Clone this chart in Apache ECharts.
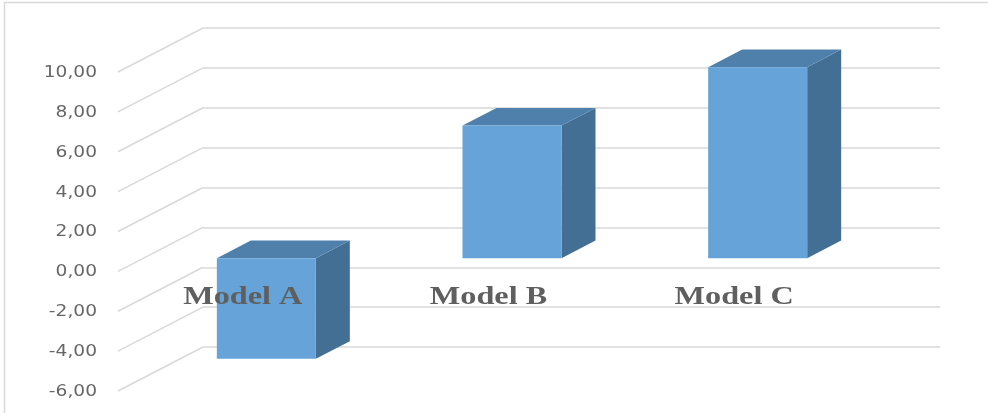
<!DOCTYPE html>
<html>
<head>
<meta charset="utf-8">
<script src="https://cdn.jsdelivr.net/npm/echarts@6/dist/echarts.min.js"></script>
<style>
  html, body { margin: 0; padding: 0; background: #ffffff; }
  #chart { width: 988px; height: 413px; }
</style>
</head>
<body>
<div id="chart"></div>
<script>
// Chart data
const categories = ['Model A', 'Model B', 'Model C'];
const values = [-5.05, 6.65, 9.58];
const tickValues = [-6, -4, -2, 0, 2, 4, 6, 8, 10];
const tickLabels = ['-6,00', '-4,00', '-2,00', '0,00', '2,00', '4,00', '6,00', '8,00', '10,00'];

// Oblique projection: offset from the back wall to the front edge of the floor
const DEPTH_DX = -85;
const DEPTH_DY = 44;
const BAR_FRONT = 0.7;   // share of the depth where the bar's front face sits
const BAR_BACK = 0.3;    // share of the depth where the bar's back face sits
const BAR_SHARE = 0.403; // bar width as share of a category band
const TEXT_STRETCH = 1.24;

const chart = echarts.init(document.getElementById('chart'), null, { renderer: 'canvas' });

function wallRender(params, api) {
  const v = api.value(1);
  const y = api.coord([0, v])[1];
  const x = params.coordSys.x;
  const fx = x + DEPTH_DX;
  const fy = y + DEPTH_DY;
  return {
    type: 'group',
    children: [
      {
        type: 'line',
        shape: { x1: x, y1: y, x2: fx, y2: fy },
        style: { stroke: '#d9d9d9', lineWidth: 1.5 }
      },
      {
        type: 'text',
        x: fx - 21,
        y: fy + 1,
        scaleX: TEXT_STRETCH,
        style: {
          text: tickLabels[params.dataIndex],
          font: '15px "DejaVu Sans", sans-serif',
          fill: '#666666',
          align: 'right', verticalAlign: 'middle',
          textAlign: 'right', textVerticalAlign: 'middle'
        }
      }
    ]
  };
}

function barRender(params, api) {
  const i = api.value(0);
  const v = api.value(1);
  const band = api.size([1, 0])[0];
  const w = band * BAR_SHARE;
  const cx = api.coord([i, 0])[0];
  const yTop = api.coord([i, Math.max(v, 0)])[1];
  const yBot = api.coord([i, Math.min(v, 0)])[1];
  const fdx = DEPTH_DX * BAR_FRONT, fdy = DEPTH_DY * BAR_FRONT;
  const bdx = DEPTH_DX * BAR_BACK, bdy = DEPTH_DY * BAR_BACK;
  const xl = cx - w / 2, xr = cx + w / 2;
  const front = { x: xl + fdx, y: yTop + fdy, width: w, height: yBot - yTop };
  return {
    type: 'group',
    children: [
      {
        type: 'polygon',
        shape: { points: [
          [xr + fdx, yTop + fdy], [xr + bdx, yTop + bdy],
          [xr + bdx, yBot + bdy], [xr + fdx, yBot + fdy]
        ] },
        style: { fill: '#436f94' }
      },
      {
        type: 'polygon',
        shape: { points: [
          [xl + fdx, yTop + fdy], [xr + fdx, yTop + fdy],
          [xr + bdx, yTop + bdy], [xl + bdx, yTop + bdy]
        ] },
        style: { fill: '#4f80ab' }
      },
      {
        type: 'rect',
        shape: front,
        style: { fill: '#65a3d8' }
      }
    ]
  };
}

function categoryRender(params, api) {
  const i = api.value(0);
  const p = api.coord([i, 0]);
  return {
    type: 'text',
    x: p[0] + DEPTH_DX + 2,
    y: p[1] + DEPTH_DY + 26,
    scaleX: TEXT_STRETCH,
    style: {
      text: categories[i],
      font: 'bold 26px "Liberation Serif", "Times New Roman", serif',
      fill: '#5f5f5f',
      align: 'center', verticalAlign: 'middle',
      textAlign: 'center', textVerticalAlign: 'middle'
    }
  };
}

chart.setOption({
  animation: false,
  backgroundColor: '#ffffff',
  graphic: [{
    type: 'rect',
    shape: { x: 4.5, y: 2.5, width: 1000, height: 430 },
    style: { fill: 'none', stroke: '#d9d9d9', lineWidth: 1.5 },
    silent: true
  }],
  grid: { left: 203, right: 48, top: 28, bottom: 66 },
  xAxis: {
    type: 'category',
    data: categories,
    boundaryGap: true,
    axisLine: { show: false },
    axisTick: { show: false },
    axisLabel: { show: false }
  },
  yAxis: {
    type: 'value',
    min: -6,
    max: 10,
    interval: 2,
    axisLine: { show: false },
    axisTick: { show: false },
    axisLabel: { show: false },
    splitLine: { lineStyle: { color: '#d9d9d9', width: 1.5 } }
  },
  series: [
    {
      type: 'custom',
      name: 'walls',
      renderItem: wallRender,
      data: tickValues.map(v => [0, v]),
      z: 1,
      silent: true
    },
    {
      type: 'custom',
      name: 'bars',
      renderItem: barRender,
      data: values.map((v, i) => [i, v]),
      z: 2
    },
    {
      type: 'custom',
      name: 'categories',
      renderItem: categoryRender,
      data: categories.map((c, i) => [i, 0]),
      z: 3,
      silent: true
    }
  ]
});
</script>
</body>
</html>
